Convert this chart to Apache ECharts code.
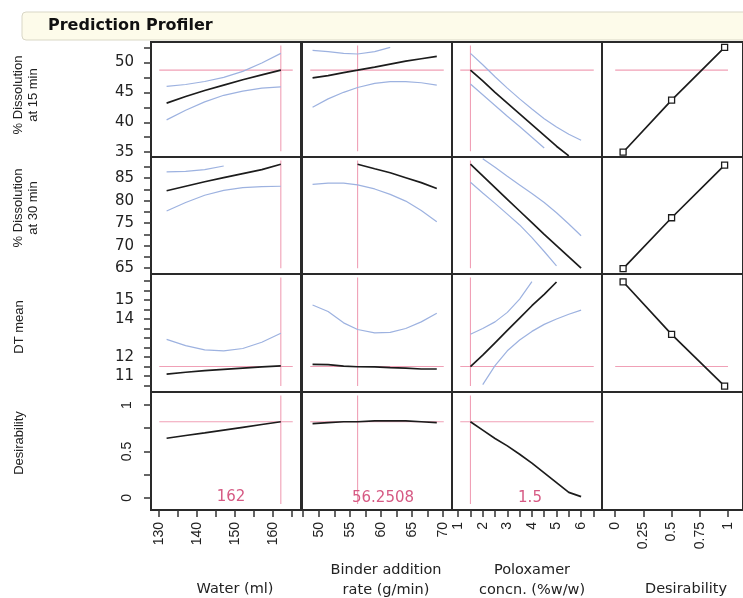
<!DOCTYPE html>
<html><head><meta charset="utf-8">
<script src="https://cdn.jsdelivr.net/npm/echarts@6/dist/echarts.min.js"></script>
<style>html,body{margin:0;padding:0;background:#fff}#c{width:743px;height:598px}</style>
</head><body><div id="c"></div>
<script>
// ---------- factor sample points ----------
const waterX  = [132, 137, 142, 147, 152, 157, 162];
const binderX = [49, 51.5, 54, 56.25, 59, 61.5, 64, 66.5, 69];
const poloxX  = [1.5, 2, 2.5, 3, 3.5, 4, 4.5, 5, 5.5, 6];
const desirX  = [0.07, 0.5, 0.97];

// ---------- % Dissolution at 15 min ----------
const d15WaterPred  = [43.2, 44.3, 45.3, 46.2, 47.1, 47.9, 48.7];
const d15WaterHi    = [46.0, 46.3, 46.8, 47.5, 48.5, 49.9, 51.5];
const d15WaterLo    = [40.4, 42.0, 43.4, 44.5, 45.2, 45.7, 45.9];
const d15BinderPred = [47.4, 47.8, 48.3, 48.7, 49.2, 49.7, 50.2, 50.6, 51.0];
const d15BinderHi   = [52.0, 51.8, 51.5, 51.4, 51.8, 52.5, null, null, null];
const d15BinderLo   = [42.5, 43.9, 45.0, 45.8, 46.5, 46.8, 46.8, 46.6, 46.2];
const d15PoloxPred  = [48.7, 46.9, 45.0, 43.2, 41.4, 39.6, 37.8, 36.0, 34.4, null];
const d15PoloxHi    = [51.5, 49.6, 47.6, 45.7, 43.9, 42.2, 40.6, 39.2, 38.0, 37.0];
const d15PoloxLo    = [46.4, 44.6, 42.8, 41.0, 39.3, 37.5, 35.7, null, null, null];
const d15Desir      = [35.0, 43.7, 52.5];

// ---------- % Dissolution at 30 min ----------
const d30WaterPred  = [82.2, 83.2, 84.2, 85.1, 86.0, 86.9, 88.1];
const d30WaterHi    = [86.4, 86.5, 86.9, 87.7, null, null, null];
const d30WaterLo    = [77.7, 79.6, 81.2, 82.3, 82.9, 83.1, 83.2];
const d30BinderPred = [null, null, null, 88.1, 87.1, 86.2, 85.1, 84.0, 82.7];
const d30BinderHi   = [null, null, null, null, null, null, null, null, null];
const d30BinderLo   = [83.6, 83.9, 83.9, 83.5, 82.6, 81.4, 79.9, 77.8, 75.3];
const d30PoloxPred  = [88.1, 85.5, 82.9, 80.3, 77.7, 75.1, 72.5, 70.0, 67.5, 65.0];
const d30PoloxHi    = [null, 89.3, 87.4, 85.4, 83.5, 81.6, 79.6, 77.3, 74.8, 72.2];
const d30PoloxLo    = [84.1, 81.7, 79.4, 77.0, 74.6, 71.8, 68.7, 65.5, null, null];
const d30Desir      = [64.9, 76.2, 87.9];

// ---------- DT mean ----------
const dtWaterPred  = [11.1, 11.2, 11.28, 11.35, 11.42, 11.48, 11.53];
const dtWaterHi    = [12.93, 12.6, 12.38, 12.32, 12.45, 12.78, 13.25];
const dtWaterLo    = [null, null, null, null, null, null, null];
const dtBinderPred = [11.61, 11.6, 11.52, 11.49, 11.48, 11.44, 11.42, 11.37, 11.37];
const dtBinderHi   = [14.74, 14.4, 13.8, 13.45, 13.27, 13.3, 13.5, 13.85, 14.3];
const dtBinderLo   = [null, null, null, null, null, null, null, null, null];
const dtPoloxPred  = [11.5, 12.1, 12.75, 13.4, 14.05, 14.7, 15.3, 15.95, null, null];
const dtPoloxHi    = [13.2, 13.5, 13.85, 14.35, 15.05, 15.97, null, null, null, null];
const dtPoloxLo    = [null, 10.55, 11.55, 12.33, 12.9, 13.35, 13.72, 14.0, 14.25, 14.47];
const dtDesir      = [15.96, 13.19, 10.47];

// ---------- Desirability ----------
const desWaterPred  = [0.642, 0.672, 0.70, 0.73, 0.76, 0.79, 0.82];
const desBinderPred = [0.80, 0.81, 0.82, 0.82, 0.83, 0.83, 0.83, 0.82, 0.81];
const desPoloxPred  = [0.82, 0.73, 0.64, 0.56, 0.47, 0.375, 0.27, 0.165, 0.06, 0.014];

// ---------- current settings ----------
const factorCurrent     = [162, 56.2508, 1.5];
const factorCurrentText = ['162', '56.2508', '1.5'];
const responseCurrent   = [48.7, null, 11.5, 0.82];

// ---------- names ----------
const responseNames = ['% Dissolution\nat 15 min', '% Dissolution\nat 30 min', 'DT mean', 'Desirability'];
const factorNames   = ['Water (ml)', 'Binder addition\nrate (g/min)', 'Poloxamer\nconcn. (%w/w)', 'Desirability'];

// ---------- ticks ----------
const waterTicks   = [130, 135, 140, 145, 150, 155, 160, 165];
const waterLabels  = [130, 140, 150, 160];
const binderTicks  = [47.5, 50, 52.5, 55, 57.5, 60, 62.5, 65, 67.5, 70];
const binderLabels = [50, 55, 60, 65, 70];
const poloxTicks   = [1, 1.5, 2, 2.5, 3, 3.5, 4, 4.5, 5, 5.5, 6, 6.5];
const poloxLabels  = [1, 2, 3, 4, 5, 6];
const desirTicks   = [0, 0.25, 0.5, 0.75, 1];
const desirLabels  = [0, 0.25, 0.5, 0.75, 1];
const d15Ticks  = [35, 37.5, 40, 42.5, 45, 47.5, 50, 52.5];
const d15Labels = [35, 40, 45, 50];
const d30Ticks  = [65, 67.5, 70, 72.5, 75, 77.5, 80, 82.5, 85, 87.5];
const d30Labels = [65, 70, 75, 80, 85];
const dtTicks   = [10.5, 11, 11.5, 12, 12.5, 13, 13.5, 14, 14.5, 15, 15.5, 16];
const dtLabels  = [11, 12, 14, 15];
const desYTicks  = [0, 0.25, 0.5, 0.75, 1];
const desYLabels = [0, 0.5, 1];

// ---------- layout ----------
const colLeft = [151, 302, 452, 602];
const colW = 150;
const rowTop = [42, 157, 274, 392];
const rowH = [115, 117, 118, 118];
const xRange = [[127.9, 167.3], [47.3, 71.45], [0.75, 6.85], [-0.117, 1.133]];
const yRange = [[34.2, 53.4], [63.7, 89.7], [10.16, 16.37], [-0.13, 1.14]];
const xTickSets = [[waterTicks, waterLabels], [binderTicks, binderLabels], [poloxTicks, poloxLabels], [desirTicks, desirLabels]];
const yTickSets = [[d15Ticks, d15Labels], [d30Ticks, d30Labels], [dtTicks, dtLabels], [desYTicks, desYLabels]];
const factorXs = [waterX, binderX, poloxX];

const panelData = [
  { pred: [d15WaterPred, d15BinderPred, d15PoloxPred], hi: [d15WaterHi, d15BinderHi, d15PoloxHi], lo: [d15WaterLo, d15BinderLo, d15PoloxLo], desir: d15Desir },
  { pred: [d30WaterPred, d30BinderPred, d30PoloxPred], hi: [d30WaterHi, d30BinderHi, d30PoloxHi], lo: [d30WaterLo, d30BinderLo, d30PoloxLo], desir: d30Desir },
  { pred: [dtWaterPred, dtBinderPred, dtPoloxPred], hi: [dtWaterHi, dtBinderHi, dtPoloxHi], lo: [dtWaterLo, dtBinderLo, dtPoloxLo], desir: dtDesir },
  { pred: [desWaterPred, desBinderPred, desPoloxPred], hi: null, lo: null, desir: null }
];

const BLACK = '#1c1c1c', BLUE = '#9db2e0', PINK = '#f0a0b6', PINKTXT = '#d65a84', BORDER = '#2a2a2a';

function pairs(xs, ys) {
  const out = [];
  xs.forEach((x, i) => { if (ys[i] !== null && ys[i] !== undefined) out.push([x, ys[i]]); });
  return out;
}
function refLine(gi, pts) {
  return { type: 'line', xAxisIndex: gi, yAxisIndex: gi, data: pts, showSymbol: false, silent: true,
    lineStyle: { color: PINK, width: 1.1 }, z: 2, emphasis: { disabled: true } };
}

const grids = [], xAxes = [], yAxes = [], series = [];
let gi = 0;
for (let r = 0; r < 4; r++) {
  for (let c = 0; c < 4; c++) {
    grids.push({ left: colLeft[c], top: rowTop[r], width: colW, height: rowH[r], show: true,
      borderColor: BORDER, borderWidth: 2, backgroundColor: '#fff' });
    const bottom = r === 3, left = c === 0;
    xAxes.push({ gridIndex: gi, type: 'value', min: xRange[c][0], max: xRange[c][1],
      axisLine: { show: false, onZero: false }, splitLine: { show: false },
      axisTick: { show: bottom, customValues: xTickSets[c][0], length: 7, lineStyle: { color: '#333', width: 1.5 } },
      axisLabel: { show: bottom, customValues: xTickSets[c][1], rotate: 90, margin: 12,
        fontFamily: 'Liberation Sans', fontSize: 14, color: '#222', formatter: v => String(v) } });
    yAxes.push({ gridIndex: gi, type: 'value', min: yRange[r][0], max: yRange[r][1],
      axisLine: { show: false, onZero: false }, splitLine: { show: false },
      axisTick: { show: left, customValues: yTickSets[r][0], length: 7, lineStyle: { color: '#333', width: 1.5 } },
      axisLabel: { show: left, customValues: yTickSets[r][1], rotate: r === 3 ? 90 : 0, margin: r === 3 ? 17 : 17,
        fontFamily: r === 3 ? 'Liberation Sans' : 'DejaVu Sans', fontSize: r === 3 ? 14 : 15, color: '#222',
        formatter: v => String(v) } });

    const xr = xRange[c], yr = yRange[r];
    const xs = (xr[1] - xr[0]), ys = (yr[1] - yr[0]);
    const pd = panelData[r];
    if (c < 3) {
      const fx = factorXs[c];
      series.push(refLine(gi, [[factorCurrent[c], yr[0] + 0.05 * ys], [factorCurrent[c], yr[1] - 0.03 * ys]]));
      if (responseCurrent[r] !== null) {
        series.push(refLine(gi, [[xr[0] + 0.055 * xs, responseCurrent[r]], [xr[1] - 0.055 * xs, responseCurrent[r]]]));
      }
      if (pd.hi) {
        series.push({ type: 'line', xAxisIndex: gi, yAxisIndex: gi, data: pairs(fx, pd.hi[c]), showSymbol: false,
          lineStyle: { color: BLUE, width: 1.2 }, z: 3 });
        series.push({ type: 'line', xAxisIndex: gi, yAxisIndex: gi, data: pairs(fx, pd.lo[c]), showSymbol: false,
          lineStyle: { color: BLUE, width: 1.2 }, z: 3 });
      }
      series.push({ type: 'line', xAxisIndex: gi, yAxisIndex: gi, data: pairs(fx, pd.pred[c]), showSymbol: false,
        lineStyle: { color: BLACK, width: 1.7 }, z: 4 });
    } else if (pd.desir) {
      if (responseCurrent[r] !== null) {
        series.push(refLine(gi, [[0, responseCurrent[r]], [1, responseCurrent[r]]]));
      }
      series.push({ type: 'line', xAxisIndex: gi, yAxisIndex: gi, data: pairs(desirX, pd.desir),
        symbol: 'rect', symbolSize: 6, showSymbol: true,
        itemStyle: { color: '#fff', borderColor: BLACK, borderWidth: 1.3 },
        lineStyle: { color: BLACK, width: 1.7 }, z: 4 });
    }
    gi++;
  }
}

const graphic = [];
// title banner
graphic.push({ type: 'rect', shape: { x: 22, y: 12, width: 740, height: 28, r: 4 }, z: 0,
  style: { fill: '#fdfbea', stroke: '#d9d7c6', lineWidth: 1 } });
graphic.push({ type: 'text', x: 48, y: 26, z: 1, style: { text: 'Prediction Profiler', fill: '#111',
  font: 'bold 16px "DejaVu Sans"', textAlign: 'left', textVerticalAlign: 'middle' } });
// response (row) titles
const rowTitlePos = [[26, 95], [26, 208], [19, 327], [19, 443]];
responseNames.forEach((t, i) => {
  graphic.push({ type: 'text', x: rowTitlePos[i][0], y: rowTitlePos[i][1], rotation: Math.PI / 2,
    style: { text: t, fill: '#222', font: '13px "Liberation Sans"', textAlign: 'center', textVerticalAlign: 'middle', lineHeight: 15 } });
});
// factor (column) titles
const colTitlePos = [[235, 589], [386, 580], [532, 580], [686, 589]];
factorNames.forEach((t, i) => {
  graphic.push({ type: 'text', x: colTitlePos[i][0], y: colTitlePos[i][1],
    style: { text: t, fill: '#222', font: '14.5px "DejaVu Sans"', textAlign: 'center', textVerticalAlign: 'middle', lineHeight: 20 } });
});
// current factor values
const curTextPos = [[231, 497], [383, 498], [530, 498]];
factorCurrentText.forEach((t, i) => {
  graphic.push({ type: 'text', x: curTextPos[i][0], y: curTextPos[i][1], z: 10,
    style: { text: t, fill: PINKTXT, font: '15px "DejaVu Sans"', textAlign: 'center', textVerticalAlign: 'middle' } });
});

const chart = echarts.init(document.getElementById('c'), null, { renderer: 'canvas' });
chart.setOption({ animation: false, backgroundColor: '#fff', grid: grids, xAxis: xAxes, yAxis: yAxes, series, graphic });
</script>
</body></html>
